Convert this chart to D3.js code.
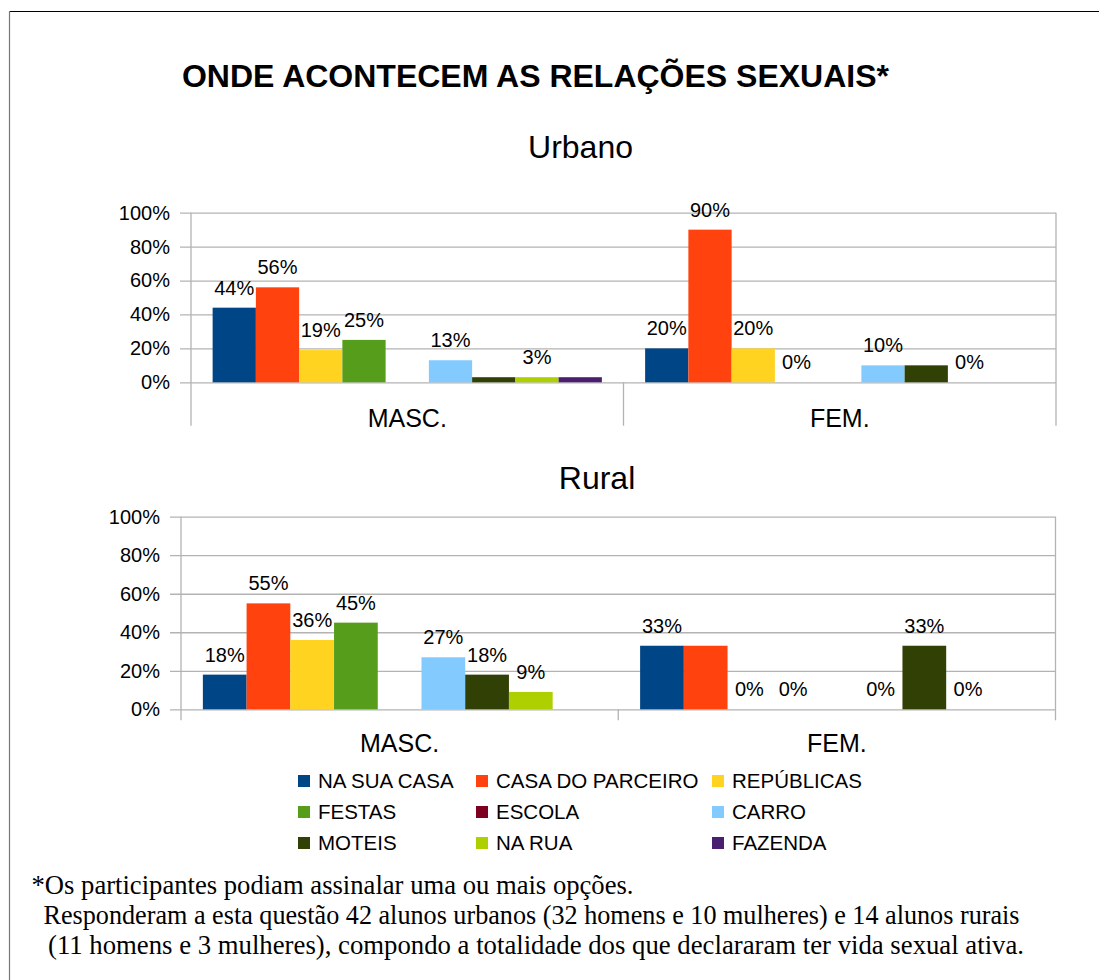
<!DOCTYPE html>
<html><head><meta charset="utf-8">
<script src="https://cdn.jsdelivr.net/npm/d3@7"></script>
<style>
html,body{margin:0;padding:0;background:#fff;}
svg{display:block;}
.sans{font-family:"Liberation Sans", Arial, sans-serif;}
text.fn{font-family:"Liberation Serif", "Times New Roman", Times, serif;}
</style></head><body>
<svg id="c" width="1099" height="980"></svg>
<script>
// ---------- data ----------
const categories = ["MASC.", "FEM."];
const seriesNames = ["NA SUA CASA","CASA DO PARCEIRO","REPÚBLICAS","FESTAS","ESCOLA","CARRO","MOTEIS","NA RUA","FAZENDA"];
const seriesColors = ["#004586","#ff420e","#ffd320","#579d1c","#7e0021","#83caff","#314004","#aecf00","#4b1f6f"];
const yTicks = [0,20,40,60,80,100];
const urbanMasc = [44,56,19,25,null,13,3,3,3];
const urbanFem  = [20,90,20,0,null,10,10,0,null];
const ruralMasc = [18,55,36,45,null,27,18,9,null];
const ruralFem  = [33,33,0,0,null,0,33,0,null];
// which value labels are printed in the original (1 = shown)
const urbanMascLabelShown = [1,1,1,1,0,1,0,1,0];
const urbanFemLabelShown  = [1,1,1,1,0,1,0,1,0];
const ruralMascLabelShown = [1,1,1,1,0,1,1,1,0];
const ruralFemLabelShown  = [1,0,1,1,0,1,1,1,0];
const mainTitle = "ONDE ACONTECEM AS RELAÇÕES SEXUAIS*";
const footnotes = [
  "*Os participantes podiam assinalar uma ou mais opções.",
  "Responderam a esta questão 42 alunos urbanos (32 homens e 10 mulheres) e 14 alunos rurais",
  "(11 homens e 3 mulheres), compondo a totalidade dos que declararam ter vida sexual ativa."
];

// ---------- drawing ----------
const svg = d3.select("#c");
const GRID = "#b3b3b3";

// frame
svg.append("line").attr("x1",9.5).attr("x2",1200).attr("y1",11.5).attr("y2",11.5).attr("stroke","#000").attr("stroke-width",1);
svg.append("line").attr("x1",9.5).attr("x2",9.5).attr("y1",11.5).attr("y2",1200).attr("stroke","#777").attr("stroke-width",1.2);

svg.append("text").attr("class","sans").attr("x",535.5).attr("y",87)
  .attr("text-anchor","middle").attr("font-size",32).attr("font-weight","bold").attr("fill","#000").text(mainTitle);

const panels = [
  {title:"Urbano", tx:580.5, ty:158, left:191, right:1056, top:212.7, base:382.3, catExt:43.4, catY:427,
   data:[urbanMasc, urbanFem], shown:[urbanMascLabelShown, urbanFemLabelShown]},
  {title:"Rural", tx:597, ty:489, left:181, right:1055.5, top:516.7, base:709.3, catExt:11, catY:752,
   data:[ruralMasc, ruralFem], shown:[ruralMascLabelShown, ruralFemLabelShown]}
];

panels.forEach(p => {
  const g = svg.append("g");
  g.append("text").attr("class","sans").attr("x",p.tx).attr("y",p.ty).attr("text-anchor","middle")
    .attr("font-size",32).attr("fill","#000").text(p.title);

  const y = d3.scaleLinear().domain([0,100]).range([p.base, p.top]);
  const x0 = d3.scaleBand().domain(categories).range([p.left, p.right]).paddingInner(0).paddingOuter(0);
  const x1 = d3.scaleBand().domain(seriesNames).range([0, x0.bandwidth()]).paddingInner(0).paddingOuter(0.5);

  // y axis with gridlines
  const ax = g.append("g").attr("transform",`translate(${p.left-11},0)`)
    .call(d3.axisLeft(y).tickValues(yTicks).tickFormat(d => d + "%")
      .tickSizeInner(-(p.right - p.left + 11)).tickSizeOuter(0).tickPadding(10));
  ax.select(".domain").remove();
  ax.selectAll(".tick line").attr("stroke",GRID).attr("stroke-width",1.3);
  ax.selectAll(".tick text").attr("class","sans").attr("font-size",20).attr("fill","#000").attr("font-family",null);

  // vertical lines
  const vline = (x, y1, y2) => g.append("line").attr("x1",x).attr("x2",x).attr("y1",y1).attr("y2",y2)
      .attr("stroke",GRID).attr("stroke-width",1.3);
  vline(p.left, p.top, p.base + p.catExt);
  vline(p.right, p.top, p.base + p.catExt);
  categories.slice(1).forEach(c => vline(x0(c), p.base, p.base + p.catExt));

  // bars
  categories.forEach((c, ci) => {
    const vals = p.data[ci];
    const shown = p.shown[ci];
    seriesNames.forEach((s, si) => {
      const v = vals[si];
      if (v === null) return;
      const bx = x0(c) + x1(s);
      if (v > 0) {
        g.append("rect").attr("x",bx).attr("y",y(v)).attr("width",x1.bandwidth())
          .attr("height",y(0)-y(v)).attr("fill",seriesColors[si]);
      }
      if (shown[si]) {
        g.append("text").attr("class","sans").attr("x",bx + x1.bandwidth()/2).attr("y",y(v) - 13)
          .attr("text-anchor","middle").attr("font-size",20).attr("fill","#000").text(v + "%");
      }
    });
    g.append("text").attr("class","sans").attr("x",x0(c) + x0.bandwidth()/2).attr("y",p.catY)
      .attr("text-anchor","middle").attr("font-size",25).attr("fill","#000").text(c);
  });
});

// legend
const legX = [298, 476, 712];
const legY = [781, 812, 843];
const leg = svg.append("g");
seriesNames.forEach((s, i) => {
  const col = i % 3, row = Math.floor(i / 3);
  leg.append("rect").attr("x",legX[col]).attr("y",legY[row]-6).attr("width",12).attr("height",12).attr("fill",seriesColors[i]);
  leg.append("text").attr("class","sans").attr("x",legX[col] + 20).attr("y",legY[row] + 7)
    .attr("font-size",20.5).attr("fill","#000").text(s);
});

// footnote
const fnX = [31.5, 43.5, 48];
const fnW = [602, 976, 976];
const fnY = [894, 924, 954];
footnotes.forEach((t, i) => {
  svg.append("text").attr("class","fn").attr("x",fnX[i]).attr("y",fnY[i]).attr("font-size",26.3)
    .attr("fill","#000").attr("textLength",fnW[i]).attr("lengthAdjust","spacingAndGlyphs").text(t);
});
</script>
</body></html>
